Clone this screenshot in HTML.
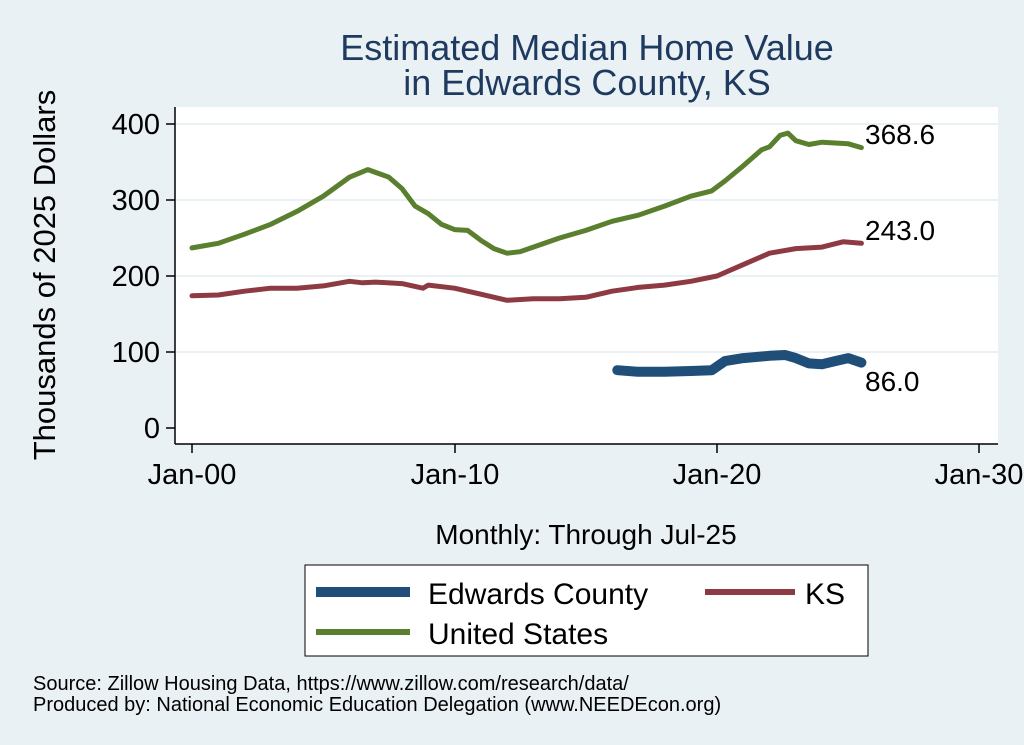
<!DOCTYPE html>
<html><head><meta charset="utf-8"><style>
body{margin:0;background:#eaf1f4;}
svg{display:block;font-family:"Liberation Sans",sans-serif;}
</style></head><body>
<svg id="s" width="1024" height="745" xmlns="http://www.w3.org/2000/svg">
<rect width="1024" height="745" fill="#eaf1f4"/>
<rect x="175" y="107" width="823" height="337" fill="#fff"/>
<g stroke="#eaf1f4" stroke-width="2">
<line x1="176" x2="998" y1="124" y2="124"/><line x1="176" x2="998" y1="200" y2="200"/>
<line x1="176" x2="998" y1="276" y2="276"/><line x1="176" x2="998" y1="352" y2="352"/>
</g>
<g stroke="#000" stroke-width="1.5">
<line x1="175" y1="107" x2="175" y2="444"/><line x1="175" y1="444" x2="998" y2="444"/>
<line x1="166" x2="175" y1="124" y2="124"/><line x1="166" x2="175" y1="200" y2="200"/>
<line x1="166" x2="175" y1="276" y2="276"/><line x1="166" x2="175" y1="352" y2="352"/>
<line x1="166" x2="175" y1="428" y2="428"/>
<line x1="192" x2="192" y1="444" y2="453"/><line x1="455" x2="455" y1="444" y2="453"/>
<line x1="717" x2="717" y1="444" y2="453"/><line x1="979" x2="979" y1="444" y2="453"/>
</g>
<g font-size="29" text-anchor="end">
<text x="160" y="134">400</text><text x="160" y="210">300</text><text x="160" y="286">200</text>
<text x="160" y="362">100</text><text x="160" y="438">0</text>
</g>
<g font-size="29" text-anchor="middle">
<text x="192" y="484">Jan-00</text><text x="455" y="484">Jan-10</text>
<text x="717" y="484">Jan-20</text><text x="979" y="484">Jan-30</text>
</g>
<text x="55" y="275" font-size="31" text-anchor="middle" transform="rotate(-90 55 275)">Thousands of 2025 Dollars</text>
<text x="586" y="544" font-size="28" text-anchor="middle">Monthly: Through Jul-25</text>
<g font-size="36" fill="#1e3a5f" text-anchor="middle">
<text x="587" y="60">Estimated Median Home Value</text><text x="587" y="95">in Edwards County, KS</text>
</g>
<g id="lines" fill="none" stroke-linejoin="round" stroke-linecap="round"></g>
<g font-size="28">
<text x="865" y="144">368.6</text><text x="865" y="240">243.0</text><text x="865" y="391">86.0</text>
</g>
<rect x="305" y="565" width="563" height="91" fill="#fff" stroke="#000" stroke-width="1"/>
<line x1="316" x2="410" y1="592" y2="592" stroke="#1f4e79" stroke-width="10"/>
<line x1="705" x2="795" y1="592" y2="592" stroke="#8e3a43" stroke-width="6"/>
<line x1="316" x2="410" y1="632" y2="632" stroke="#5a7f2f" stroke-width="6"/>
<g font-size="30"><text x="428" y="604">Edwards County</text><text x="805" y="604">KS</text><text x="428" y="644">United States</text></g>
<g font-size="20"><text x="33" y="690">Source: Zillow Housing Data, https://www.zillow.com/research/data/</text>
<text x="33" y="711">Produced by: National Economic Education Delegation (www.NEEDEcon.org)</text></g>
</svg>
<script>
function pts(a){return a.map(p=>(192+26.25*(p[0]-2000)).toFixed(1)+","+(428-0.76*p[1]).toFixed(1)).join(" ");}
var us=[[2000,237],[2001,243],[2002,255],[2003,268],[2004,285],[2005,305],[2006,330],[2006.7,340],[2007.5,330],[2008,315],[2008.5,292],[2009,282],[2009.5,268],[2010,261],[2010.5,260],[2011,247],[2011.5,236],[2012,230],[2012.5,232],[2013,238],[2014,250],[2015,260],[2016,272],[2017,280],[2018,292],[2019,305],[2019.8,312],[2020.3,325],[2021,345],[2021.7,366],[2022,370],[2022.4,385],[2022.7,388],[2023,378],[2023.5,373],[2024,376],[2024.5,375],[2025,374],[2025.5,369]];
var ks=[[2000,174],[2001,175],[2002,180],[2003,184],[2004,184],[2005,187],[2006,193],[2006.5,191],[2007,192],[2008,190],[2008.8,184],[2009,188],[2010,184],[2011,176],[2012,168],[2013,170],[2014,170],[2015,172],[2016,180],[2017,185],[2018,188],[2019,193],[2020,200],[2021,215],[2022,230],[2023,236],[2024,238],[2024.8,245],[2025.5,243]];
var ed=[[2016.2,76],[2017,74],[2018,74],[2019,75],[2019.8,76],[2020.3,88],[2021,92],[2022,95],[2022.6,96],[2023,92],[2023.5,85],[2024,84],[2024.5,88],[2025,92],[2025.5,86]];
var g=document.getElementById("lines");
g.innerHTML='<polyline points="'+pts(us)+'" stroke="#5a7f2f" stroke-width="5"/>'+
'<polyline points="'+pts(ks)+'" stroke="#8e3a43" stroke-width="5"/>'+
'<polyline points="'+pts(ed)+'" stroke="#1f4e79" stroke-width="10"/>';
</script>
</body></html>
